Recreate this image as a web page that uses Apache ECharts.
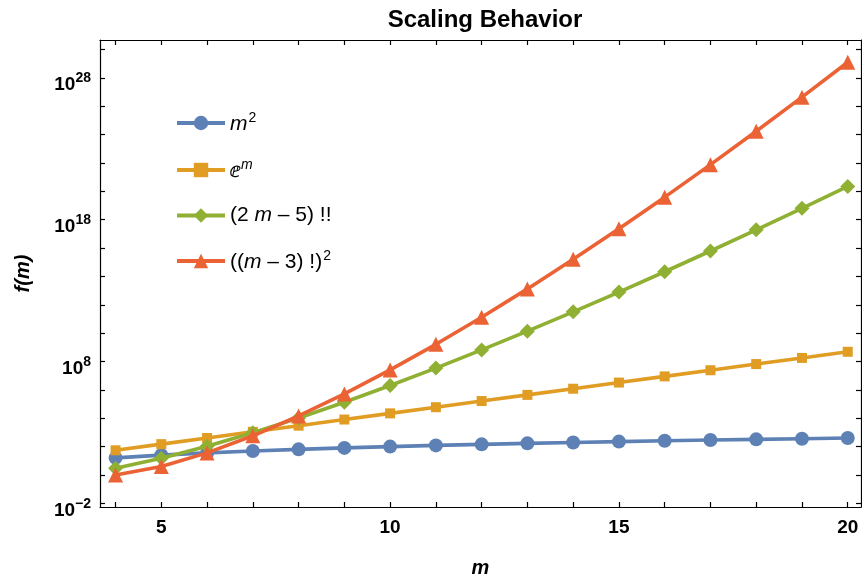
<!DOCTYPE html>
<html>
<head>
<meta charset="utf-8">
<script src="https://cdn.jsdelivr.net/npm/echarts@6/dist/echarts.min.js"></script>
<style>html,body{margin:0;padding:0;background:#fff}#c{width:862px;height:583px}</style>
</head>
<body>
<div id="c"></div>
<script>
var mValues = [4,5,6,7,8,9,10,11,12,13,14,15,16,17,18,19,20];
var squareValues = [16,25,36,49,64,81,100,121,144,169,196,225,256,289,324,361,400];
var expValues = [54.598,148.41,403.43,1096.6,2981.0,8103.1,22026,59874,162755,442413,1202604,3269017,8886111,24154953,65659969,178482301,485165195];
var doubleFactValues = [3,15,105,945,10395,135135,2027025,34459425,654729075,13749310575,316234143225,7905853580625,213458046676875,6190283353629375,1.9189878e17,6.3327e18,2.2164e20];
var factSqValues = [1,4,36,576,14400,518400,25401600,1625702400,131681894400,13168189440000,1.5933509e15,2.2944154e17,3.8776e19,7.6001e21,1.71001e24,4.3776e26,1.26514e29];
var seriesNames = ['m2','em','dfact','fsq'];
var xTickValues = [4,5,6,7,8,9,10,11,12,13,14,15,16,17,18,19,20];
var xLabelValues = [5,10,15,20];
var yTickValues = [1e-2,1e0,1e2,1e4,1e6,1e8,1e10,1e12,1e14,1e16,1e18,1e20,1e22,1e24,1e26,1e28,1e30];
var yLabelValues = [1e-2,1e8,1e18,1e28];

var colors = ['#5E81B5','#E19C24','#8FB032','#EB6235'];
var symbols = ['circle','rect','diamond','triangle'];
var symbolSizes = [14,10,15,15];
var allValues = [squareValues, expValues, doubleFactValues, factSqValues];

var legendText = {
  m2: '{i|m}{sup|2}',
  em: '{n|\u2147}{isup|m}',
  dfact: '{n|(2 }{i|m}{n| \u2013 5) !!}',
  fsq: '{n|((}{i|m}{n| \u2013 3) !)}{sup|2}'
};

var series = seriesNames.map(function (name, k) {
  return {
    name: name,
    type: 'line',
    data: mValues.map(function (m, i) { return [m, allValues[k][i]]; }),
    symbol: symbols[k],
    symbolSize: symbolSizes[k],
    showAllSymbol: true,
    lineStyle: { width: 3.6, color: colors[k] },
    itemStyle: { color: colors[k] },
    emphasis: { disabled: true },
    animation: false,
    z: 2 + k
  };
});

var tickFont = 'Liberation Sans';
var chart = echarts.init(document.getElementById('c'), null, { renderer: 'canvas' });
chart.setOption({
  backgroundColor: '#fff',
  animation: false,
  title: {
    text: 'Scaling Behavior',
    left: 480, top: 3, textAlign: 'center',
    textStyle: { fontFamily: tickFont, fontWeight: 'bold', fontSize: 24, color: '#000' }
  },
  grid: { left: 100, right: 1, top: 40, bottom: 72 },
  legend: {
    orient: 'vertical',
    left: 170, top: 106,
    itemWidth: 48, itemHeight: 18, itemGap: 23,
    data: seriesNames,
    selectedMode: false,
    lineStyle: { width: 4 },
    formatter: function (name) { return legendText[name]; },
    textStyle: {
      fontFamily: tickFont, fontSize: 21, color: '#000',
      rich: {
        n: { fontFamily: tickFont, fontSize: 21, color: '#000', verticalAlign: 'bottom' },
        i: { fontFamily: tickFont, fontSize: 21, fontStyle: 'italic', color: '#000', verticalAlign: 'bottom' },
        sup: { fontFamily: tickFont, fontSize: 14, color: '#000', verticalAlign: 'bottom', padding: [0, 0, 10, 1] },
        isup: { fontFamily: tickFont, fontSize: 14, fontStyle: 'italic', color: '#000', verticalAlign: 'bottom', padding: [0, 0, 10, 1] }
      }
    }
  },
  xAxis: [{
    type: 'value', min: 3.66, max: 20.29,
    name: 'm', nameLocation: 'middle', nameGap: 51,
    nameTextStyle: { fontFamily: tickFont, fontSize: 20, fontWeight: 'bold', fontStyle: 'italic', color: '#000' },
    splitLine: { show: false },
    axisLine: { show: true, onZero: false, lineStyle: { color: '#000', width: 1.2 } },
    axisTick: { show: true, inside: true, length: 5, customValues: xTickValues, lineStyle: { color: '#000', width: 1.2 } },
    axisLabel: { customValues: xLabelValues, margin: 11, fontFamily: tickFont, fontWeight: 'bold', fontSize: 19, color: '#000' }
  }, {
    type: 'value', min: 3.66, max: 20.29, position: 'top',
    splitLine: { show: false },
    axisLine: { show: true, onZero: false, lineStyle: { color: '#000', width: 1.2 } },
    axisTick: { show: true, inside: true, length: 5, customValues: xTickValues, lineStyle: { color: '#000', width: 1.2 } },
    axisLabel: { show: false }
  }],
  yAxis: [{
    type: 'log', logBase: 10, min: Math.pow(10, -2.26), max: Math.pow(10, 30.67),
    name: 'f(m)', nameLocation: 'middle', nameGap: 67, nameRotate: 90,
    nameTextStyle: { fontFamily: tickFont, fontSize: 20, fontWeight: 'bold', fontStyle: 'italic', color: '#000' },
    splitLine: { show: false },
    axisLine: { show: true, onZero: false, lineStyle: { color: '#000', width: 1.2 } },
    axisTick: { show: true, inside: true, length: 5, customValues: yTickValues, lineStyle: { color: '#000', width: 1.2 } },
    axisLabel: {
      customValues: yLabelValues, margin: 9,
      formatter: function (v) { return '{b|10}{s|' + String(Math.round(Math.log10(v))).replace('-', '\u2212') + '}'; },
      rich: {
        b: { fontFamily: tickFont, fontWeight: 'bold', fontSize: 19, color: '#000', verticalAlign: 'bottom', padding: [14, 0, 0, 0] },
        s: { fontFamily: tickFont, fontWeight: 'bold', fontSize: 14, color: '#000', verticalAlign: 'bottom', padding: [0, 0, 9, 0] }
      }
    }
  }, {
    type: 'log', logBase: 10, min: Math.pow(10, -2.26), max: Math.pow(10, 30.67), position: 'right',
    splitLine: { show: false },
    axisLine: { show: true, onZero: false, lineStyle: { color: '#000', width: 1.2 } },
    axisTick: { show: true, inside: true, length: 5, customValues: yTickValues, lineStyle: { color: '#000', width: 1.2 } },
    axisLabel: { show: false }
  }],
  series: series
});
</script>
</body>
</html>
